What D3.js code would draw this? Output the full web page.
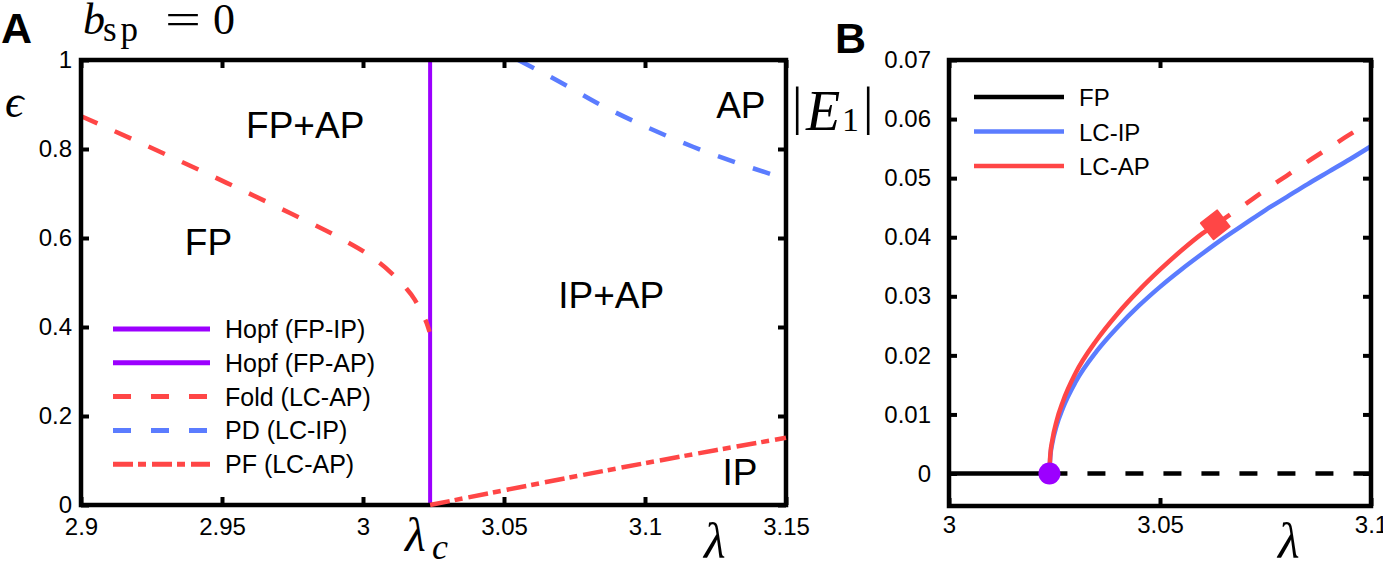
<!DOCTYPE html>
<html>
<head>
<meta charset="utf-8">
<script src="https://cdn.jsdelivr.net/npm/d3@7"></script>
<style>
  body { margin: 0; background: #fff; }
  svg { display: block; }
  .tick text { font-family: "Liberation Sans", Arial, sans-serif; font-size: 24px; fill: #000; }
  .math { font-family: "Liberation Serif", "DejaVu Serif", serif; fill: #000; }
  .sans { font-family: "Liberation Sans", Arial, sans-serif; fill: #000; }
</style>
</head>
<body>
<div id="chart"></div>
<script>
// values
var lambdaC = 3.0238;

// panel A: (lambda, epsilon)
var hopfLine = [[lambdaC, 0], [lambdaC, 1]];
var foldCurve = [[2.9, 0.874], [2.9245, 0.804], [2.9496, 0.730], [2.9741, 0.656], [2.9918, 0.600],
  [3.0025, 0.560], [3.0096, 0.524], [3.0149, 0.490], [3.0184, 0.461], [3.0209, 0.431],
  [3.0227, 0.407], [3.0236, 0.389]];
var pdCurve = [[3.055, 1.0], [3.07, 0.950], [3.084, 0.900], [3.10, 0.851], [3.117, 0.805],
  [3.133, 0.768], [3.15, 0.733]];
var pfCurve = [[lambdaC, 0], [3.05, 0.033], [3.075, 0.064], [3.1, 0.094], [3.125, 0.123], [3.15, 0.151]];
var xTicksA = [2.9, 2.95, 3, 3.05, 3.1, 3.15];
var yTicksA = [0, 0.2, 0.4, 0.6, 0.8, 1];
var legendA = ["Hopf (FP-IP)", "Hopf (FP-AP)", "Fold (LC-AP)", "PD (LC-IP)", "PF (LC-AP)"];
var regionsA = [["FP+AP", 2.9795, 0.825], ["FP", 2.9452, 0.562], ["IP+AP", 3.0880, 0.443],
  ["AP", 3.1340, 0.870], ["IP", 3.1337, 0.045]];

// panel B: (lambda, |E1|)
var fpStable = [[3.0, 0], [lambdaC, 0]];
var fpUnstable = [[lambdaC, 0], [3.1, 0]];
var lcIP = [[lambdaC, 0], [3.0240, 0.0028], [3.0245, 0.0052], [3.0255, 0.0081], [3.027, 0.0111],
  [3.030, 0.0155], [3.035, 0.0207], [3.040, 0.0248], [3.045, 0.0284], [3.050, 0.0316],
  [3.055, 0.0345], [3.060, 0.0372], [3.065, 0.0398], [3.070, 0.0422], [3.075, 0.0446],
  [3.080, 0.0468], [3.085, 0.0490], [3.090, 0.0511], [3.095, 0.0532], [3.100, 0.0554]];
var lcAPStable = [[lambdaC, 0], [3.0240, 0.0031], [3.0245, 0.0057], [3.0255, 0.0089], [3.027, 0.0122],
  [3.030, 0.0170], [3.035, 0.0226], [3.040, 0.0271], [3.045, 0.0310], [3.050, 0.0345],
  [3.055, 0.0377], [3.060, 0.0406], [3.0631, 0.0421]];
var lcAPUnstable = [[3.0631, 0.0421], [3.070, 0.0455], [3.075, 0.0480], [3.080, 0.0504],
  [3.085, 0.0528], [3.090, 0.0551], [3.095, 0.0574], [3.100, 0.0596]];
var foldPointB = [3.0631, 0.0421];
var hopfPointB = [lambdaC, 0];
var xTicksB = [3, 3.05, 3.1];
var yTicksB = [0, 0.01, 0.02, 0.03, 0.04, 0.05, 0.06, 0.07];
var legendB = ["FP", "LC-IP", "LC-AP"];

var red = "#ff4646", blue = "#5b7cff", purple = "#9c00ff";

var svg = d3.select("#chart").append("svg")
  .attr("width", 1383)
  .attr("height", 563);

// ---------- panel A ----------
var xA = d3.scaleLinear().domain([2.9, 3.15]).range([81, 786]);
var yA = d3.scaleLinear().domain([0, 1]).range([505, 60]);
var lineA = d3.line().x(d => xA(d[0])).y(d => yA(d[1])).curve(d3.curveMonotoneX);

var gA = svg.append("g");

gA.append("g").attr("transform", "translate(81,0)")
  .call(d3.axisLeft(yA).tickValues(yTicksA).tickSizeInner(-8).tickSizeOuter(0).tickPadding(9)
    .tickFormat(d3.format("")));
gA.append("g").attr("transform", "translate(0,505)")
  .call(d3.axisBottom(xA).tickValues(xTicksA).tickSizeInner(-8).tickSizeOuter(0).tickPadding(13)
    .tickFormat(d3.format("")));
gA.append("g").attr("transform", "translate(786,0)")
  .call(d3.axisRight(yA).tickValues(yTicksA).tickSizeInner(-8).tickSizeOuter(0).tickFormat(""));
gA.append("g").attr("transform", "translate(0,60)")
  .call(d3.axisTop(xA).tickValues(xTicksA).tickSizeInner(-8).tickSizeOuter(0).tickFormat(""));

gA.selectAll(".domain").remove();
gA.selectAll(".tick line").attr("stroke", "#000").attr("stroke-width", 4);

gA.append("path").datum(hopfLine).attr("d", lineA)
  .attr("fill", "none").attr("stroke", purple).attr("stroke-width", 4);
gA.append("path").datum(foldCurve).attr("d", lineA)
  .attr("fill", "none").attr("stroke", red).attr("stroke-width", 4.5).attr("stroke-dasharray", "18,19");
gA.append("path").datum(pdCurve).attr("d", lineA)
  .attr("fill", "none").attr("stroke", blue).attr("stroke-width", 4.5).attr("stroke-dasharray", "18,19");

gA.append("rect").attr("x", 81).attr("y", 60).attr("width", 705).attr("height", 445)
  .attr("fill", "none").attr("stroke", "#000").attr("stroke-width", 4.5);

gA.append("path").datum(pfCurve).attr("d", lineA)
  .attr("fill", "none").attr("stroke", red).attr("stroke-width", 4.5).attr("stroke-dasharray", "20,5,8,6");

gA.selectAll(".region").data(regionsA).enter().append("text")
  .attr("class", "sans")
  .attr("x", d => xA(d[1])).attr("y", d => yA(d[2]))
  .attr("text-anchor", "middle")
  .attr("font-size", 37)
  .text(d => d[0]);

var legStylesA = [
  { color: purple, dash: null },
  { color: purple, dash: null },
  { color: red, dash: "18,20" },
  { color: blue, dash: "18,20" },
  { color: red, dash: "20,5,8,6" }
];
var legA = gA.selectAll(".legA").data(legendA).enter().append("g")
  .attr("transform", (d, i) => "translate(113," + (329 + i * 33.8) + ")");
legA.append("line").attr("x1", 0).attr("x2", 97).attr("y1", 0).attr("y2", 0)
  .attr("stroke", (d, i) => legStylesA[i].color).attr("stroke-width", 5)
  .attr("stroke-dasharray", (d, i) => legStylesA[i].dash);
legA.append("text").attr("class", "sans").attr("x", 112).attr("y", 9)
  .attr("font-size", 25).text(d => d);

// labels panel A
svg.append("text").attr("class", "sans").attr("x", 1).attr("y", 43)
  .attr("font-size", 43).attr("font-weight", "bold").text("A");
svg.append("text").attr("class", "math").attr("x", 83).attr("y", 34)
  .attr("font-size", 44).attr("font-style", "italic").text("b");
svg.append("text").attr("class", "math").attr("x", 103).attr("y", 41)
  .attr("font-size", 35).attr("letter-spacing", 4).text("sp");
svg.append("text").attr("class", "math").attr("x", 165).attr("y", 34)
  .attr("font-size", 44).attr("textLength", 36).attr("lengthAdjust", "spacingAndGlyphs").text("=");
svg.append("text").attr("class", "math").attr("x", 213).attr("y", 34)
  .attr("font-size", 44).text("0");
svg.append("text").attr("class", "math").attr("x", 5).attr("y", 117)
  .attr("font-size", 46).attr("font-style", "italic").text("ϵ");
svg.append("text").attr("class", "math").attr("x", 405).attr("y", 551)
  .attr("font-size", 48).attr("font-style", "italic").text("λ");
svg.append("text").attr("class", "math").attr("x", 432).attr("y", 559)
  .attr("font-size", 36).attr("font-style", "italic").text("c");
svg.append("text").attr("class", "math").attr("x", 704).attr("y", 558)
  .attr("font-size", 50).attr("font-style", "italic").text("λ");

// ---------- panel B ----------
var xB = d3.scaleLinear().domain([3, 3.1]).range([949, 1371]);
var yB = d3.scaleLinear().domain([-0.0055, 0.07]).range([506, 60]);
var lineB = d3.line().x(d => xB(d[0])).y(d => yB(d[1])).curve(d3.curveMonotoneX);

var gB = svg.append("g");

gB.append("g").attr("transform", "translate(949,0)")
  .call(d3.axisLeft(yB).tickValues(yTicksB).tickSizeInner(-8).tickSizeOuter(0).tickPadding(18)
    .tickFormat(d3.format("")));
gB.append("g").attr("transform", "translate(0,506)")
  .call(d3.axisBottom(xB).tickValues(xTicksB).tickSizeInner(-8).tickSizeOuter(0).tickPadding(10)
    .tickFormat(d3.format("")));
gB.append("g").attr("transform", "translate(1371,0)")
  .call(d3.axisRight(yB).tickValues(yTicksB).tickSizeInner(-8).tickSizeOuter(0).tickFormat(""));
gB.append("g").attr("transform", "translate(0,60)")
  .call(d3.axisTop(xB).tickValues(xTicksB).tickSizeInner(-8).tickSizeOuter(0).tickFormat(""));

gB.selectAll(".domain").remove();
gB.selectAll(".tick line").attr("stroke", "#000").attr("stroke-width", 4);

gB.append("path").datum(fpStable).attr("d", lineB)
  .attr("fill", "none").attr("stroke", "#000").attr("stroke-width", 4.5);
gB.append("path").datum(fpUnstable).attr("d", lineB)
  .attr("fill", "none").attr("stroke", "#000").attr("stroke-width", 4.5).attr("stroke-dasharray", "18,20");
gB.append("path").datum(lcIP).attr("d", lineB)
  .attr("fill", "none").attr("stroke", blue).attr("stroke-width", 4.5);
gB.append("path").datum(lcAPStable).attr("d", lineB)
  .attr("fill", "none").attr("stroke", red).attr("stroke-width", 4.5);
gB.append("path").datum(lcAPUnstable).attr("d", lineB)
  .attr("fill", "none").attr("stroke", red).attr("stroke-width", 4.5).attr("stroke-dasharray", "18,19");

gB.append("rect").attr("x", 949).attr("y", 60).attr("width", 422).attr("height", 446)
  .attr("fill", "none").attr("stroke", "#000").attr("stroke-width", 4.5);

gB.append("path")
  .attr("d", d3.symbol().type(d3.symbolSquare).size(420))
  .attr("transform", "translate(" + xB(foldPointB[0]) + "," + yB(foldPointB[1]) + ") rotate(52)")
  .attr("fill", red).attr("stroke", red).attr("stroke-width", 2).attr("stroke-linejoin", "round");
gB.append("circle").attr("cx", xB(hopfPointB[0])).attr("cy", yB(hopfPointB[1])).attr("r", 11)
  .attr("fill", purple);

var legStylesB = ["#000", blue, red];
var legB = gB.selectAll(".legB").data(legendB).enter().append("g")
  .attr("transform", (d, i) => "translate(974," + (97 + i * 34.5) + ")");
legB.append("line").attr("x1", 0).attr("x2", 90).attr("y1", 0).attr("y2", 0)
  .attr("stroke", (d, i) => legStylesB[i]).attr("stroke-width", 4.5);
legB.append("text").attr("class", "sans").attr("x", 105).attr("y", 9)
  .attr("font-size", 24).text(d => d);

// labels panel B
svg.append("text").attr("class", "sans").attr("x", 835).attr("y", 53)
  .attr("font-size", 43).attr("font-weight", "bold").text("B");
svg.append("text").attr("class", "math").attr("x", 792).attr("y", 124)
  .attr("font-size", 52).text("|");
svg.append("text").attr("class", "math").attr("x", 806).attr("y", 130)
  .attr("font-size", 56).attr("font-style", "italic").text("E");
svg.append("text").attr("class", "math").attr("x", 842).attr("y", 131)
  .attr("font-size", 34).text("1");
svg.append("text").attr("class", "math").attr("x", 863).attr("y", 124)
  .attr("font-size", 52).text("|");
svg.append("text").attr("class", "math").attr("x", 1278).attr("y", 558)
  .attr("font-size", 50).attr("font-style", "italic").text("λ");
</script>
</body>
</html>
